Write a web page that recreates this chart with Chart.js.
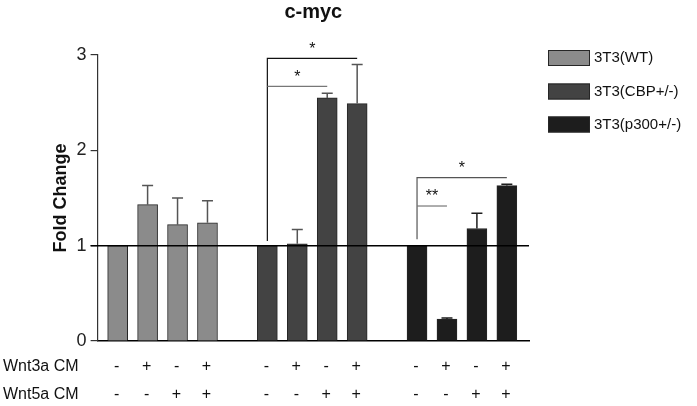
<!DOCTYPE html>
<html>
<head>
<meta charset="utf-8">
<script src="https://cdn.jsdelivr.net/npm/chart.js@4"></script>
<style>
  html, body { margin: 0; padding: 0; background: #fff; }
  #wrap { width: 697px; height: 406px; }
</style>
</head>
<body>
<div id="wrap"><canvas id="chart"></canvas></div>
<script>
// series (fold change) and upper SEM
const groupNames = ['3T3(WT)', '3T3(CBP+/-)', '3T3(p300+/-)'];
const wtValues   = [1, 1.43, 1.22, 1.24];
const cbpValues  = [1, 1.02, 2.55, 2.49];
const p300Values = [1, 0.23, 1.18, 1.63];
const wtErrors   = [0, 0.20, 0.28, 0.23];
const cbpErrors  = [0, 0.15, 0.05, 0.41];
const p300Errors = [0, 0.01, 0.16, 0.015];

// treatment rows under the axis
const rowNames = ['Wnt3a CM', 'Wnt5a CM'];
const wnt3a = ['-', '+', '-', '+'];
const wnt5a = ['-', '-', '+', '+'];

const yTicks = [0, 1, 2, 3];

// significance brackets (bar index inside group, level, label)
const sigGroup = [1, 1, 2, 2];
const sigFrom  = [0, 0, 0, 0];
const sigTo    = [3, 2, 3, 1];
const sigLevel = [2.965, 2.67, 1.713, 1.416];
const sigDrop  = [1.05, null, 1.067, null];
const sigLabel = ['*', '*', '*', '**'];

const fills   = ['#8b8b8b', '#434343', '#1d1d1d'];
const errCols = ['#555555', '#555555', '#1d1d1d'];
const sigCols = ['#111111', '#777777', '#555555', '#777777'];

const allValues = [wtValues, cbpValues, p300Values];
const allErrors = [wtErrors, cbpErrors, p300Errors];

// each group takes 4 slots plus one empty slot
const pos = (g, i) => g * 5 + i;

const datasets = allValues.map((vals, g) => ({
    label: groupNames[g],
    data: vals.map((v, i) => ({ x: pos(g, i), y: v })),
    backgroundColor: fills[g],
    borderColor: '#262626',
    borderWidth: 1,
    barThickness: 20,
    grouped: false,
    errors: allErrors[g]
}));

const font = '"Liberation Sans", Arial, sans-serif';

const extras = {
    id: 'extras',
    afterDatasetsDraw(chart) {
        const { ctx, chartArea: a, scales: { x, y } } = chart;
        ctx.save();

        // error bars
        chart.data.datasets.forEach((ds, g) => {
            ds.data.forEach((p, i) => {
                const e = ds.errors[i];
                if (!e) return;
                const px = x.getPixelForValue(p.x);
                const y0 = y.getPixelForValue(p.y);
                const y1 = y.getPixelForValue(p.y + e);
                ctx.strokeStyle = errCols[g];
                ctx.lineWidth = 1.5;
                ctx.beginPath();
                ctx.moveTo(px, y0);
                ctx.lineTo(px, y1);
                ctx.moveTo(px - 5.5, y1);
                ctx.lineTo(px + 5.5, y1);
                ctx.stroke();
            });
        });

        // reference line at fold change 1
        const yOne = y.getPixelForValue(1);
        ctx.strokeStyle = '#000';
        ctx.lineWidth = 1.5;
        ctx.beginPath();
        ctx.moveTo(a.left - 7, yOne);
        ctx.lineTo(a.right, yOne);
        ctx.stroke();

        // significance brackets
        ctx.font = '16px ' + font;
        ctx.textAlign = 'center';
        ctx.textBaseline = 'middle';
        sigLevel.forEach((lv, k) => {
            const g = sigGroup[k];
            const x0 = x.getPixelForValue(pos(g, sigFrom[k]));
            const x1 = x.getPixelForValue(pos(g, sigTo[k]));
            const yy = y.getPixelForValue(lv);
            ctx.strokeStyle = sigCols[k];
            ctx.lineWidth = 1.2;
            ctx.beginPath();
            if (sigDrop[k] !== null) {
                ctx.moveTo(x0, y.getPixelForValue(sigDrop[k]));
                ctx.lineTo(x0, yy);
            } else {
                ctx.moveTo(x0, yy);
            }
            ctx.lineTo(x1, yy);
            ctx.stroke();
            ctx.fillStyle = '#111';
            ctx.fillText(sigLabel[k], (x0 + x1) / 2, yy - 9);
        });

        ctx.restore();
    },
    afterDraw(chart) {
        const { ctx, chartArea: a, scales: { x } } = chart;
        ctx.save();

        // title
        ctx.fillStyle = '#111';
        ctx.font = 'bold 20px ' + font;
        ctx.textAlign = 'center';
        ctx.textBaseline = 'middle';
        ctx.fillText('c-myc', (a.left + a.right) / 2, 12);

        // treatment rows
        ctx.font = '16px ' + font;
        const rowY = [367, 395];
        [wnt3a, wnt5a].forEach((row, r) => {
            ctx.textAlign = 'left';
            ctx.fillText(rowNames[r], 3, rowY[r]);
            ctx.textAlign = 'center';
            for (let g = 0; g < 3; g++) {
                row.forEach((s, i) => {
                    ctx.fillText(s, x.getPixelForValue(pos(g, i)) - 1, rowY[r]);
                });
            }
        });

        // legend
        ctx.font = '15px ' + font;
        ctx.textAlign = 'left';
        const legY = [50, 83.5, 116.5];
        groupNames.forEach((n, g) => {
            ctx.fillStyle = fills[g];
            ctx.fillRect(548, legY[g], 42, 16);
            ctx.strokeStyle = '#262626';
            ctx.lineWidth = 1;
            ctx.strokeRect(548.5, legY[g] + 0.5, 41, 15);
            ctx.fillStyle = '#111';
            ctx.fillText(n, 594, legY[g] + 8);
        });

        ctx.restore();
    }
};

new Chart(document.getElementById('chart'), {
    type: 'bar',
    data: { datasets },
    options: {
        responsive: true,
        maintainAspectRatio: false,
        animation: false,
        layout: { padding: { left: 50, right: 168, top: 55, bottom: 65 } },
        plugins: {
            legend: { display: false },
            tooltip: { enabled: false }
        },
        scales: {
            x: {
                type: 'linear',
                offset: false,
                min: -0.67,
                max: 13.74,
                grid: { display: false, drawTicks: false },
                border: { display: true, color: '#000', width: 1.5 },
                ticks: { display: false }
            },
            y: {
                min: 0,
                max: 3,
                afterBuildTicks: s => { s.ticks = yTicks.map(v => ({ value: v })); },
                grid: { drawOnChartArea: false, drawTicks: true, tickLength: 7, color: '#333', lineWidth: 1.2 },
                border: { display: true, color: '#333', width: 1.2 },
                ticks: { color: '#222', padding: 4, font: { family: font, size: 18 } },
                title: {
                    display: true,
                    text: 'Fold Change',
                    color: '#111',
                    font: { family: font, size: 18, weight: 'bold' },
                    padding: { top: 0, bottom: 1 }
                }
            }
        }
    },
    plugins: [extras]
});
</script>
</body>
</html>
